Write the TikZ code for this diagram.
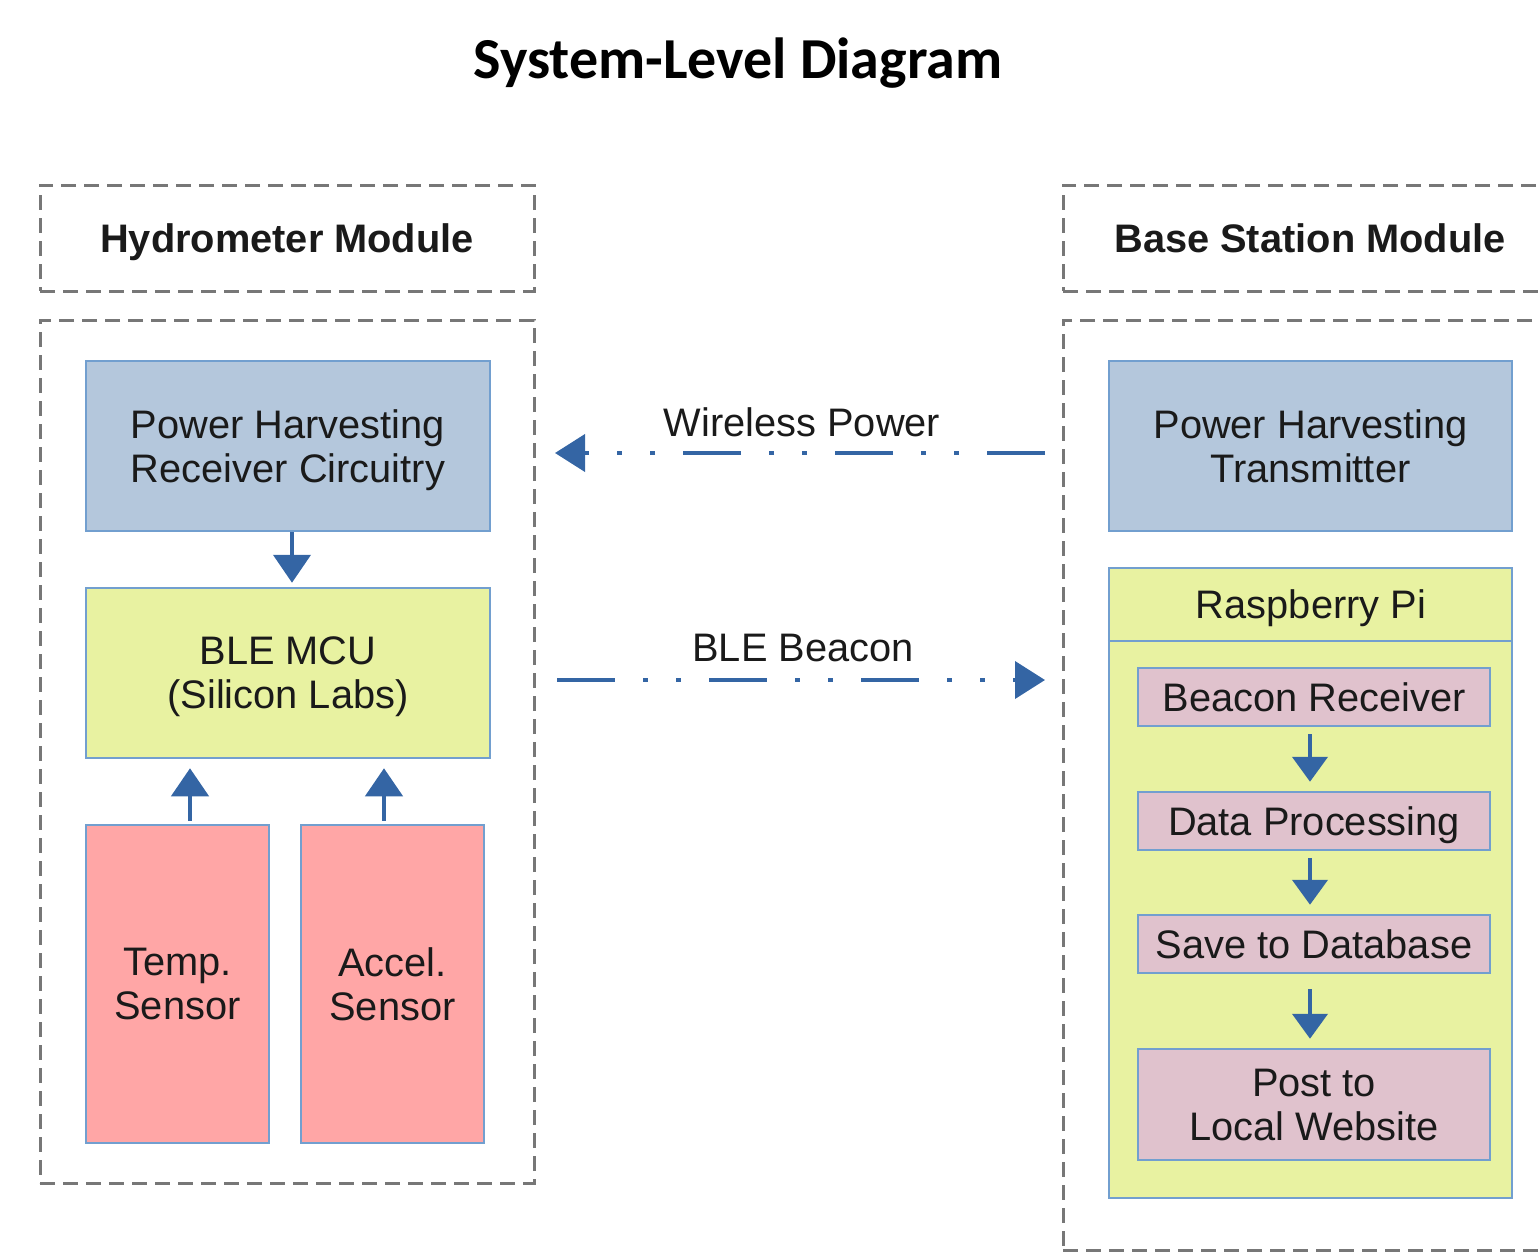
\documentclass[tikz,border=0pt]{standalone}
\usepackage{fontspec}
\setmainfont{Liberation Sans}
\newfontfamily\titlefont{Carlito}
\usetikzlibrary{arrows.meta}
\definecolor{bluefill}{HTML}{B4C7DC}
\definecolor{boxedge}{HTML}{729FCF}
\definecolor{yellowfill}{HTML}{E8F2A1}
\definecolor{redfill}{HTML}{FFA6A6}
\definecolor{pinkfill}{HTML}{E0C2CD}
\definecolor{arrowblue}{HTML}{3465A4}
\definecolor{dashgray}{HTML}{777777}
\definecolor{txt}{HTML}{1A1A1A}
\begin{document}
\begin{tikzpicture}[x=1pt,y=-1pt,
  box/.style={draw=boxedge, line width=2.5pt, inner sep=0pt, align=center,
    text=txt, text depth=0pt, font=\fontsize{39.8}{44}\selectfont},
  modbox/.style={draw=dashgray, line width=3pt, dash pattern=on 15pt off 8pt,
    inner sep=0pt, text=txt, text depth=0pt, font=\fontsize{39.8}{44}\selectfont\bfseries},
  lbl/.style={inner sep=0pt, text=txt, text depth=0pt, font=\fontsize{39.8}{44}\selectfont},
  flow/.style={draw=arrowblue, line width=4.5pt,
    -{Triangle[length=28pt,width=37pt]}},
  flowsmall/.style={draw=arrowblue, line width=4.5pt,
    -{Triangle[length=25pt,width=35pt]}},
  wave/.style={draw=arrowblue, line width=4pt,
    dash pattern=on 58pt off 28pt on 5pt off 28pt on 5pt off 28pt,
    -{Triangle[length=30pt,width=37pt]}}
]
\path[use as bounding box] (0,0) rectangle (1540,1253);
\clip (0,0) rectangle (1540,1253);

% title
\node[inner sep=0pt, text=black, text depth=0pt,
  font=\titlefont\fontsize{58}{60}\selectfont\bfseries] (title) at (738,58) {System-Level Diagram};

% module frames
\node[modbox, minimum width=494pt, minimum height=106pt] (hmt) at (287,238) {Hydrometer Module};
\node[modbox, minimum width=494pt, minimum height=863pt] (hmc) at (287,751.5) {};
\node[modbox, minimum width=494pt, minimum height=106pt] (bst) at (1310,238) {Base Station Module};
\node[modbox, minimum width=494pt, minimum height=930pt] (bsc) at (1310,785) {};

% hydrometer blocks
\node[box, fill=bluefill, minimum width=404pt, minimum height=170pt] (phr) at (288,446)
  {Power Harvesting\\Receiver Circuitry};
\node[box, fill=yellowfill, minimum width=404pt, minimum height=170pt] (mcu) at (288,673)
  {BLE MCU\\(Silicon Labs)};
\node[box, fill=redfill, minimum width=183pt, minimum height=318pt] (temp) at (177.5,984)
  {Temp.\\Sensor};
\node[box, fill=redfill, minimum width=183pt, minimum height=318pt] (accel) at (392.5,984)
  {Accel.\\Sensor};

\draw[flow, shorten >=4pt] ([xshift=4pt]phr.south) -- ([xshift=4pt]mcu.north);
\draw[flow, shorten <=3pt, shorten >=9pt] ([xshift=12.5pt]temp.north) -- ([xshift=12.5pt]temp.north |- mcu.south);
\draw[flow, shorten <=3pt, shorten >=9pt] ([xshift=-8.5pt]accel.north) -- ([xshift=-8.5pt]accel.north |- mcu.south);

% base station blocks
\node[box, fill=bluefill, minimum width=403pt, minimum height=170pt] (pht) at (1310.5,446)
  {Power Harvesting\\Transmitter};
\node[box, fill=yellowfill, minimum width=403pt, minimum height=630pt] (rpi) at (1310.5,883) {};
\node[lbl] (rpit) at (1311,604) {Raspberry Pi};
\draw[draw=boxedge, line width=2.5pt] (rpi.west |- 0,641) -- (rpi.east |- 0,641);

\node[box, fill=pinkfill, minimum width=352pt, minimum height=58pt] (br) at (1314,697) {Beacon Receiver};
\node[box, fill=pinkfill, minimum width=352pt, minimum height=58pt] (dp) at (1314,821) {Data Processing};
\node[box, fill=pinkfill, minimum width=352pt, minimum height=58pt] (sdb) at (1314,944) {Save to Database};
\node[box, fill=pinkfill, minimum width=352pt, minimum height=111pt] (plw) at (1314,1104.5) {Post to\\Local Website};

\draw[flowsmall, shorten <=7pt, shorten >=9pt] ([xshift=-4pt]br.south) -- ([xshift=-4pt]dp.north);
\draw[flowsmall, shorten <=7pt, shorten >=9pt] ([xshift=-4pt]dp.south) -- ([xshift=-4pt]sdb.north);
\draw[flowsmall, shorten <=15pt, shorten >=9pt] ([xshift=-4pt]sdb.south) -- ([xshift=-4pt]plw.north);

% wireless links
\coordinate (wpS) at (1045,453);
\coordinate (wpE) at (555,453);
\coordinate (bbS) at (557,680);
\coordinate (bbE) at (1045,680);
\draw[wave] (wpS) -- (wpE);
\draw[wave] (bbS) -- (bbE);
\node[lbl] (wpl) at (802,422) {Wireless Power};
\node[lbl] (bbl) at (803,648) {BLE Beacon};
\end{tikzpicture}
\end{document}
